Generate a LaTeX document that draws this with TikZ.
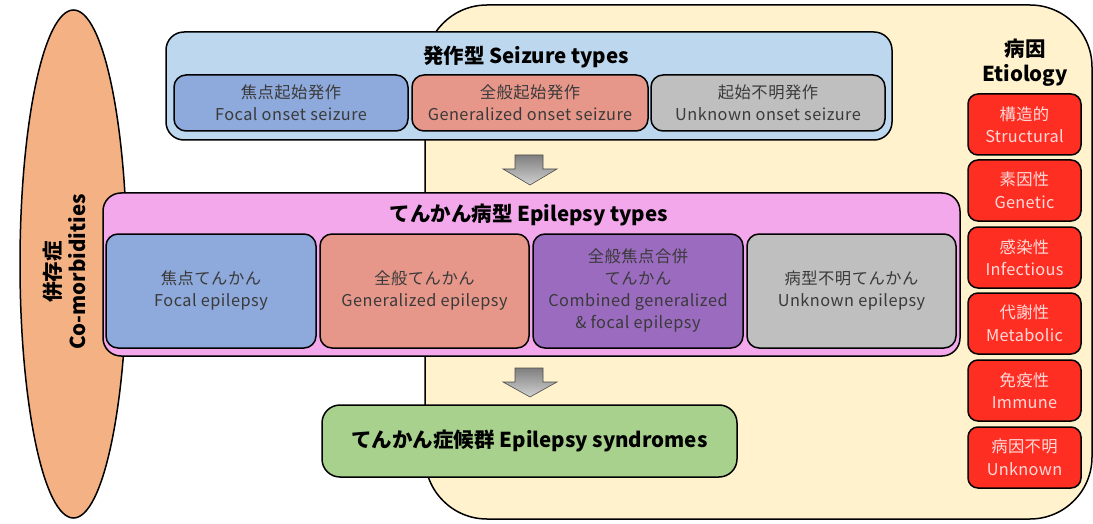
\documentclass[tikz,border=0pt]{standalone}
\usepackage{fontspec}
\setmainfont{Noto Sans CJK JP}
\usetikzlibrary{shapes.geometric}
\definecolor{bgyellow}{HTML}{FFF2CC}
\definecolor{ellfill}{HTML}{F4B183}
\definecolor{seizfill}{HTML}{BDD7EE}
\definecolor{bluefill}{HTML}{8EA9DB}
\definecolor{salmonfill}{HTML}{E6978A}
\definecolor{grayfill}{HTML}{BFBFBF}
\definecolor{pinkfill}{HTML}{F3A8EB}
\definecolor{purplefill}{HTML}{9B6BBF}
\definecolor{greenfill}{HTML}{A9D18E}
\definecolor{redfill}{HTML}{FF2E22}
\definecolor{redtext}{HTML}{FFDADA}
\definecolor{subtext}{HTML}{3A3A3A}
\begin{document}
\begin{tikzpicture}[x=1pt,y=-1pt,
  outline/.style={draw=black, line width=1.5pt},
  bigbox/.style={outline, rectangle, rounded corners=18pt, inner sep=0pt},
  subbox/.style={outline, rectangle, rounded corners=12pt, inner sep=0pt, align=center,
    text=subtext, font=\fontsize{16.3}{22}\selectfont\addfontfeature{LetterSpace=3}},
  etbox/.style={outline, rectangle, rounded corners=10pt, inner sep=0pt, align=center,
    fill=redfill, text=redtext, font=\fontsize{16.3}{22.5}\selectfont\addfontfeature{LetterSpace=2},
    minimum width=113pt, minimum height=61pt},
  titletext/.style={inner sep=0pt, font=\bfseries\fontsize{20.5}{25}\selectfont, align=center},
  blockarrow/.style={draw=black!70, line width=0.6pt, top color=black!50, bottom color=black!18}
]
\useasboundingbox (0,0) rectangle (1093,524);

% background
\node[outline, rectangle, rounded corners=62pt, fill=bgyellow, minimum width=667pt, minimum height=514pt, inner sep=0pt] (bg) at (758.5,262) {};

% comorbidities ellipse
\node[outline, ellipse, fill=ellfill, minimum width=107pt, minimum height=508pt, inner sep=0pt] (comorb) at (73.5,264) {};
\node[titletext, rotate=90] (comorbtext) at (64,272) {併存症\\Co-morbidities};

% seizure types
\node[bigbox, fill=seizfill, minimum width=726pt, minimum height=108pt] (seiz) at (529,86) {};
\node[titletext] (seiztitle) at (526,57) {発作型 Seizure types};
\node[subbox, fill=bluefill, minimum width=234pt, minimum height=56pt] (sfocal) at (291,103) {焦点起始発作\\Focal onset seizure};
\node[subbox, fill=salmonfill, minimum width=236pt, minimum height=56pt] (sgen) at (530,103) {全般起始発作\\Generalized onset seizure};
\node[subbox, fill=grayfill, minimum width=234pt, minimum height=56pt] (sunk) at (768,103) {起始不明発作\\Unknown onset seizure};

% epilepsy types
\node[bigbox, fill=pinkfill, minimum width=857pt, minimum height=163pt] (epi) at (531.5,274.5) {};
\node[titletext] (epititle) at (529,215) {てんかん病型 Epilepsy types};
\node[subbox, fill=bluefill, minimum width=210pt, minimum height=114pt] (efocal) at (211,291) {焦点てんかん\\Focal epilepsy};
\node[subbox, fill=salmonfill, minimum width=209pt, minimum height=114pt] (egen) at (424.5,291) {全般てんかん\\Generalized epilepsy};
\node[subbox, fill=purplefill, minimum width=210pt, minimum height=114pt] (ecomb) at (638,291) {全般焦点合併\\てんかん\\Combined generalized\\\& focal epilepsy};
\node[subbox, fill=grayfill, minimum width=209pt, minimum height=114pt] (eunk) at (851.5,291) {病型不明てんかん\\Unknown epilepsy};

% syndromes
\node[bigbox, fill=greenfill, minimum width=415pt, minimum height=72pt, font=\bfseries\fontsize{20.5}{25}\selectfont] (synd) at (529.5,441) {てんかん症候群 Epilepsy syndromes};

% etiology
\node[titletext] (ettitle) at (1025,63) {病因\\Etiology};
\node[etbox] (et1) at (1024.5,124.5) {構造的\\Structural};
\node[etbox] (et2) at (1024.5,190.5) {素因性\\Genetic};
\node[etbox] (et3) at (1024.5,257.5) {感染性\\Infectious};
\node[etbox] (et4) at (1024.5,323.5) {代謝性\\Metabolic};
\node[etbox] (et5) at (1024.5,390.5) {免疫性\\Immune};
\node[etbox] (et6) at (1024.5,457.5) {病因不明\\Unknown};

% block arrows
\path[blockarrow] (515,155) -- (543,155) -- (543,169) -- (557,169) -- (530,185) -- (503,169) -- (515,169) -- cycle;
\path[blockarrow] (515,368) -- (543,368) -- (543,382) -- (557,382) -- (530,397) -- (503,382) -- (515,382) -- cycle;
\end{tikzpicture}
\end{document}
